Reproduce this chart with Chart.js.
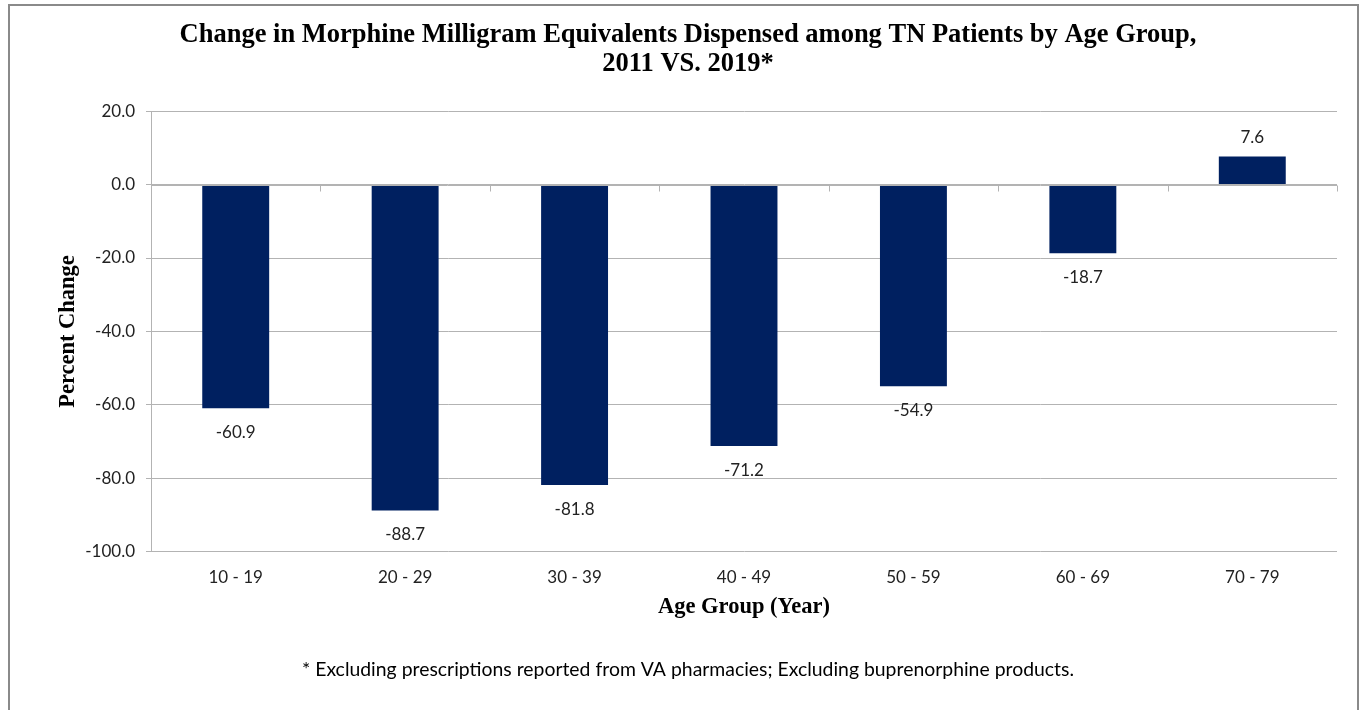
<!DOCTYPE html>
<html lang="en">
<head>
  <meta charset="UTF-8">
  <title>Change in Morphine Milligram Equivalents by Age Group</title>
  <style>
    * { box-sizing: border-box; }
    body { margin: 0; background: white; }
    .wrap { position: relative; width: 1362px; height: 710px; overflow: hidden; }
    .frame { position: absolute; left: 8px; top: 4px; width: 1351px; height: 760px; border: 2px solid #8a8a8a; pointer-events: none; }
    canvas { position: absolute; left: 0; top: 0; }
  </style>
</head>
<body>
  <div class="wrap">
    <canvas id="chart" width="1362" height="710"></canvas>
    <div class="frame"></div>
  </div>

  <script src="https://cdn.jsdelivr.net/npm/chart.js"></script>
  <script>
    // Data
    const ageGroups = ['10 - 19', '20 - 29', '30 - 39', '40 - 49', '50 - 59', '60 - 69', '70 - 79'];
    const percentChange = [-60.9, -88.7, -81.8, -71.2, -54.9, -18.7, 7.6];
    const yMin = -100, yMax = 20, yStep = 20;

    const titleLines = ['Change in Morphine Milligram Equivalents Dispensed among TN Patients by Age Group,', '2011 VS. 2019*'];
    const footnote = '* Excluding prescriptions reported from VA pharmacies; Excluding buprenorphine products.';

    const barColor = '#002060';
    const gridColor = '#b3b3b3';
    const sansFamily = 'Lato, "Liberation Sans", sans-serif';
    const tickFont = { family: sansFamily, size: 17 };
    const serifBold = { family: '"Liberation Serif", "Times New Roman", serif', weight: 'bold' };

    // value labels at the outer end of each bar
    const barLabels = {
      id: 'barLabels',
      afterDatasetsDraw(chart) {
        const ctx = chart.ctx;
        const meta = chart.getDatasetMeta(0);
        ctx.save();
        ctx.font = '17px ' + sansFamily;
        ctx.fillStyle = '#222';
        ctx.textAlign = 'center';
        ctx.textBaseline = 'middle';
        meta.data.forEach((bar, i) => {
          const v = percentChange[i];
          const y = v < 0 ? bar.y + 24 : bar.y - 19;
          ctx.fillText(v.toFixed(1), bar.x, y);
        });
        ctx.restore();
      }
    };

    // horizontal axis crosses at zero, with tick marks between categories
    const zeroAxis = {
      id: 'zeroAxis',
      afterDatasetsDraw(chart) {
        const ctx = chart.ctx;
        const x = chart.scales.x, y = chart.scales.y;
        const y0 = Math.round(y.getPixelForValue(0)) + 0.5;
        const step = x.getPixelForValue(1) - x.getPixelForValue(0);
        ctx.save();
        ctx.strokeStyle = gridColor;
        ctx.lineWidth = 1;
        ctx.beginPath();
        ctx.moveTo(x.left, y0);
        ctx.lineTo(x.right, y0);
        for (let i = 0; i <= ageGroups.length; i++) {
          const px = Math.round(x.getPixelForValue(0) - step / 2 + i * step) + 0.5;
          ctx.moveTo(px, y0);
          ctx.lineTo(px, y0 + 6);
        }
        ctx.stroke();
        ctx.restore();
      }
    };

    new Chart(document.getElementById('chart'), {
      type: 'bar',
      data: {
        labels: ageGroups,
        datasets: [{
          data: percentChange,
          backgroundColor: barColor,
          borderWidth: 0,
          barPercentage: 0.395,
          categoryPercentage: 1
        }]
      },
      options: {
        responsive: false,
        animation: false,
        layout: { padding: { left: 39, right: 25, top: 0, bottom: 0 } },
        plugins: {
          legend: { display: false },
          tooltip: { enabled: false },
          title: {
            display: true,
            text: titleLines,
            color: '#000',
            font: { ...serifBold, size: 26.5, lineHeight: 1.08 },
            padding: { top: 21, bottom: 32.8 }
          },
          subtitle: {
            display: true,
            position: 'bottom',
            text: footnote,
            color: '#000',
            font: { family: sansFamily, size: 19.4, lineHeight: 1.2 },
            padding: { top: 21.4, bottom: 28.4 }
          }
        },
        scales: {
          x: {
            grid: { display: false, drawTicks: false },
            border: { display: false },
            ticks: { color: '#222', font: tickFont, padding: 15 },
            title: {
              display: true,
              text: 'Age Group (Year)',
              color: '#000',
              font: { ...serifBold, size: 22.5, lineHeight: 1.2 },
              padding: { top: 0, bottom: 16.5 }
            },
            afterFit(scale) { scale.height = 85; }
          },
          y: {
            min: yMin,
            max: yMax,
            grid: { color: gridColor, tickLength: 5, drawTicks: true },
            border: { display: true, color: gridColor },
            ticks: {
              stepSize: yStep,
              color: '#222',
              font: tickFont,
              padding: 11,
              callback: v => v.toFixed(1)
            },
            title: {
              display: true,
              text: 'Percent Change',
              color: '#000',
              font: { ...serifBold, size: 22.5, lineHeight: 1.2 },
              padding: { top: 15.5, bottom: 0 }
            },
            afterFit(scale) { scale.width = 112; }
          }
        }
      },
      plugins: [barLabels, zeroAxis]
    });
  </script>
</body>
</html>
